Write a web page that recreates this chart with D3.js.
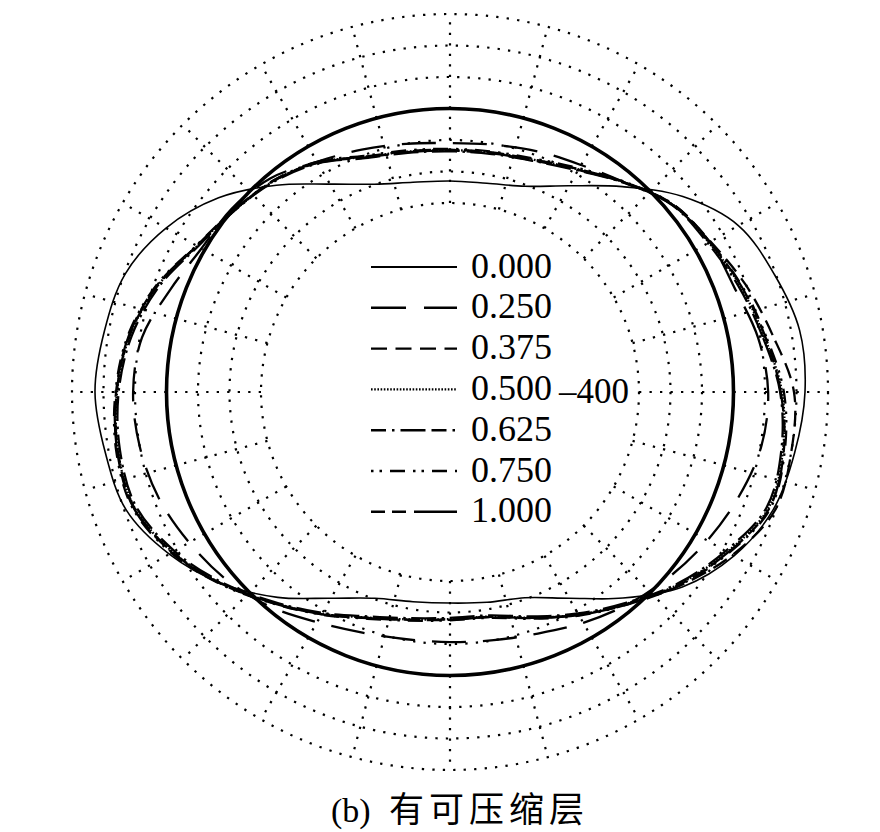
<!DOCTYPE html>
<html>
<head>
<meta charset="utf-8">
<script src="https://cdn.jsdelivr.net/npm/d3@7/dist/d3.min.js"></script>
<style>
  html, body { margin: 0; padding: 0; background: #fff; }
  svg { display: block; }
</style>
</head>
<body>
<svg id="chart" width="880" height="832"></svg>
<script>
// ---------------- DATA ----------------
// angle in degrees, counter-clockwise from the positive x axis
const angles = [0,10,20,30,40,50,60,70,80,90,100,110,120,130,140,150,160,170,
                180,190,200,210,220,230,240,250,260,270,280,290,300,310,320,330,340,350];

const radialTicks = [-400, -300, -200, -100, 0, 100, 200];
const radialTickLabels = ["\u2013400"];          // only the -400 label is visible
const spokeAngles = [0,15,30,45,60,75,90,105,120,135,150,165,180,195,210,225,240,255,270,285,300,315,330,345];
const referenceValue = -100;                      // thick reference circle

const seriesNames = ["0.000", "0.250", "0.375", "0.500", "0.625", "0.750", "1.000"];

const s000 = [127,127,95,57,-35,-149,-244,-305,-327,-330,-324,-298,-238,-143,-41,41,97,114,
              127,111,94,29,-54,-149,-244,-303,-324,-330,-322,-305,-244,-146,-37,41,92,111];
const s250 = [10,-7,-38,-48,-76,-133,-168,-187,-203,-210,-200,-181,-156,-114,-95,-89,-54,-7,
              6,0,-16,-44,-73,-111,-156,-187,-203,-206,-200,-184,-154,-121,-89,-57,-25,3];
const s375 = [92,40,-2,-45,-74,-132,-183,-215,-228,-231,-224,-205,-158,-126,-104,-72,-12,33,
              58,71,68,17,-53,-126,-186,-237,-266,-278,-275,-237,-183,-120,-45,35,98,100];
const s500 = [54,13,-19,-51,-76,-133,-184,-216,-229,-232,-225,-206,-159,-127,-105,-73,-13,32,
              57,70,67,16,-54,-127,-187,-238,-267,-279,-276,-238,-184,-124,-51,16,76,73];
const s625 = [48,8,-24,-55,-78,-135,-188,-220,-233,-236,-229,-210,-162,-129,-106,-76,-18,26,
              52,64,61,10,-58,-130,-190,-242,-271,-283,-280,-242,-188,-127,-55,10,70,68];
const s750 = [60,19,-14,-47,-74,-131,-180,-212,-225,-228,-221,-202,-156,-125,-103,-70,-8,38,
              62,76,73,22,-50,-124,-184,-234,-263,-275,-272,-234,-180,-121,-47,22,82,79];
const s1000 = [50,16,-16,-49,-77,-134,-186,-218,-231,-234,-227,-208,-160,-126,-104,-72,-10,35,
              60,73,70,19,-52,-125,-185,-236,-265,-277,-274,-236,-182,-122,-49,19,79,76];

const seriesValues = [s000, s250, s375, s500, s625, s750, s1000];

// ---------------- STYLES ----------------
const styles = [
  { dash: null,                 width: 1.6 },
  { dash: "34,17",              width: 2.3 },
  { dash: "16,8.5",             width: 2.3 },
  { dash: "1.6,1.6",            width: 2.3 },
  { dash: "25,5.5,2.5,5.5",     width: 2.3 },
  { dash: "2.5,6,2.5,8,15,8",   width: 2.3 },
  { dash: "13,7,13,8,42,8",     width: 2.3 }
];
const legendStyles = [
  { dash: null,                 width: 2.0 },
  { dash: "35,18",              width: 2.4 },
  { dash: "16,8.5",             width: 2.4 },
  { dash: "1.6,1.6",            width: 2.2 },
  { dash: "15,6,2.5,6,25,6",    width: 2.4 },
  { dash: "2.5,6,2.5,8,15,8",   width: 2.4 },
  { dash: "14,7,14,8,44,8",     width: 2.4 }
];

// ---------------- CHART ----------------
const svg = d3.select("#chart");
const cx = 450, cy = 392, R = 378;

const rScale = d3.scaleLinear().domain([-1000, 200]).range([0, R]);
// convert math angle (deg, ccw from east) to d3 radial angle (rad, cw from north)
const aScale = d3.scaleLinear().domain([0, 360]).range([Math.PI / 2, Math.PI / 2 - 2 * Math.PI]);

const g = svg.append("g").attr("transform", `translate(${cx},${cy})`);

const gridDash = "2.3,8.2";
// grid circles
g.append("g").selectAll("circle").data(radialTicks).join("circle")
  .attr("r", d => rScale(d))
  .attr("fill", "none")
  .attr("stroke", "#000")
  .attr("stroke-width", 2.2)
  .attr("stroke-dasharray", gridDash);

// spokes
g.append("g").selectAll("line").data(spokeAngles).join("line")
  .attr("x1", d => rScale(radialTicks[0]) * Math.sin(aScale(d)))
  .attr("y1", d => -rScale(radialTicks[0]) * Math.cos(aScale(d)))
  .attr("x2", d => rScale(radialTicks[radialTicks.length - 1]) * Math.sin(aScale(d)))
  .attr("y2", d => -rScale(radialTicks[radialTicks.length - 1]) * Math.cos(aScale(d)))
  .attr("stroke", "#000")
  .attr("stroke-width", 2.2)
  .attr("stroke-dasharray", gridDash);

// reference circle
g.append("circle")
  .attr("r", rScale(referenceValue))
  .attr("fill", "none")
  .attr("stroke", "#000")
  .attr("stroke-width", 3.6);

// series curves
const radial = d3.lineRadial()
  .angle(d => aScale(d[0]))
  .radius(d => rScale(d[1]))
  .curve(d3.curveCatmullRomClosed.alpha(0.5));

seriesValues.forEach((vals, i) => {
  const pts = angles.map((a, j) => [a, vals[j]]);
  g.append("path")
    .attr("d", radial(pts))
    .attr("fill", "none")
    .attr("stroke", "#000")
    .attr("stroke-width", styles[i].width)
    .attr("stroke-dasharray", styles[i].dash);
});

// radial tick label
g.append("text")
  .attr("x", rScale(radialTicks[0]) - 10)
  .attr("y", 11)
  .attr("text-anchor", "end")
  .attr("font-family", "'Liberation Serif','Times New Roman',serif")
  .attr("font-size", 35)
  .text(radialTickLabels[0]);

// legend
const legend = svg.append("g");
const legX1 = 371, legX2 = 457, legTextX = 471, legY0 = 267, legDy = 40.8;
seriesNames.forEach((name, i) => {
  const y = legY0 + i * legDy;
  legend.append("line")
    .attr("x1", legX1).attr("x2", legX2)
    .attr("y1", y).attr("y2", y)
    .attr("stroke", "#000")
    .attr("stroke-width", legendStyles[i].width)
    .attr("stroke-dasharray", legendStyles[i].dash);
  legend.append("text")
    .attr("x", legTextX)
    .attr("y", y + 10.5)
    .attr("font-family", "'Liberation Serif','Times New Roman',serif")
    .attr("font-size", 36)
    .text(name);
});

// caption
const cap = svg.append("text").attr("y", 822);
cap.append("tspan")
  .attr("x", 331)
  .attr("font-family", "'Liberation Serif','Times New Roman',serif")
  .attr("font-size", 34)
  .text("(b)");
cap.append("tspan")
  .attr("x", 389)
  .attr("font-family", "'Noto Sans CJK SC','Noto Sans CJK JP',sans-serif")
  .attr("font-size", 35)
  .attr("letter-spacing", 5)
  .text("有可压缩层");
</script>
</body>
</html>
